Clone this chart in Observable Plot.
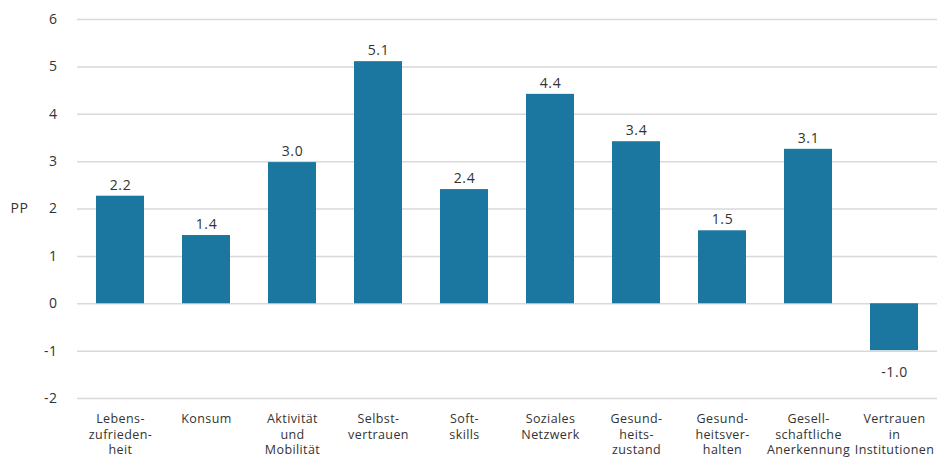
<!DOCTYPE html>
<html>
<head>
<meta charset="utf-8">
<script src="https://cdn.jsdelivr.net/npm/d3@7"></script>
<script src="https://cdn.jsdelivr.net/npm/@observablehq/plot@0.6"></script>
<style>
  html, body { margin: 0; padding: 0; background: #fff; }
  #chart svg { display: block; }
  #chart svg g[aria-label="x-axis tick label"] text { letter-spacing: 0.4px; }
  #chart svg g[aria-label="y-axis tick label"] text { letter-spacing: 0.5px; }
  #chart svg g[aria-label="text"] text { letter-spacing: 0.6px; }
</style>
</head>
<body>
<div id="chart"></div>
<script>
const categories = [
  "Lebens-\nzufrieden-\nheit",
  "Konsum",
  "Aktivität\nund\nMobilität",
  "Selbst-\nvertrauen",
  "Soft-\nskills",
  "Soziales\nNetzwerk",
  "Gesund-\nheits-\nzustand",
  "Gesund-\nheitsver-\nhalten",
  "Gesell-\nschaftliche\nAnerkennung",
  "Vertrauen\nin\nInstitutionen"
];
const values = [2.27, 1.44, 2.98, 5.11, 2.41, 4.42, 3.42, 1.54, 3.26, -0.99];
const valueLabels = ["2.2", "1.4", "3.0", "5.1", "2.4", "4.4", "3.4", "1.5", "3.1", "-1.0"];
const yTicks = [-2, -1, 0, 1, 2, 3, 4, 5, 6];
const yTitle = "PP";

const data = categories.map((c, i) => ({cat: c, value: values[i], label: valueLabels[i]}));
const pos = data.filter(d => d.value >= 0);
const neg = data.filter(d => d.value < 0);

const chart = Plot.plot({
  width: 937,
  height: 458,
  marginTop: 19,
  marginBottom: 60,
  marginLeft: 77,
  marginRight: 0,
  style: {fontFamily: "'Open Sans', sans-serif", color: "#333", background: "#fff"},
  x: {domain: categories, paddingInner: 0.44, paddingOuter: 0.22, label: null},
  y: {domain: [-2, 6], ticks: yTicks, label: null},
  marks: [
    Plot.gridY(yTicks, {stroke: "#d9d9d9", strokeOpacity: 1, strokeWidth: 1.5}),
    Plot.axisY(yTicks, {tickSize: 0, tickPadding: 20, fontSize: 14, label: null, tickFormat: d => String(d)}),
    Plot.axisX({tickSize: 0, tickPadding: 14, fontSize: 12.5, lineHeight: 1.22, label: null, textAnchor: "middle"}),
    Plot.barY(data, {x: "cat", y: "value", fill: "#1b77a0"}),
    Plot.text(pos, {x: "cat", y: "value", text: "label", dy: -11, fontSize: 14, fill: "#333"}),
    Plot.text(neg, {x: "cat", y: "value", text: "label", dy: 22, fontSize: 14, fill: "#333"}),
    Plot.text([yTitle], {frameAnchor: "left", dx: -67, textAnchor: "start", fontSize: 14, fill: "#333"})
  ]
});
document.getElementById("chart").appendChild(chart);
</script>
</body>
</html>
